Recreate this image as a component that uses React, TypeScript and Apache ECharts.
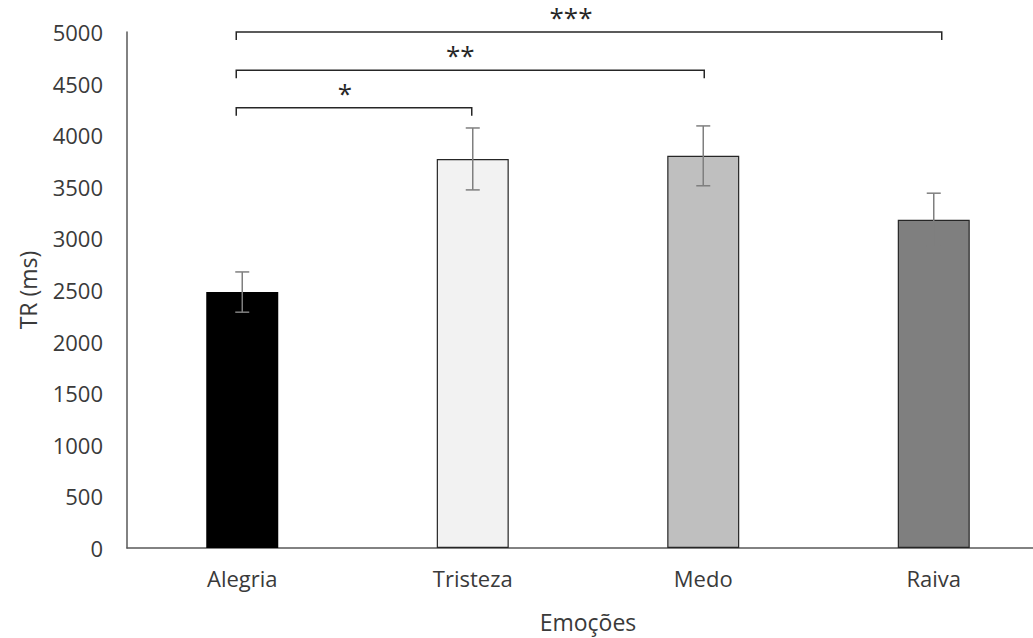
import React, { useEffect, useRef } from "react";
import * as echarts from "echarts";

const categories = ["Alegria", "Tristeza", "Medo", "Raiva"];
const means = [2480, 3770, 3800, 3180];
const errors = [195, 300, 290, 258];
const barColors = ["#000000", "#f2f2f2", "#bfbfbf", "#7f7f7f"];
const bracketFrom = [0, 0, 0];
const bracketTo = [1, 2, 3];
const bracketLevel = [4265, 4630, 5000];
const bracketLabels = ["*", "**", "***"];
const yTicks = { min: 0, max: 5000, interval: 500 };

// pixel styling tweaks (not data)
const bracketStartOffset = -6;
const bracketEndOffset = [-1, 1, 8];
const starOffset = [-9, -10, -18];

const FONT = "'Open Sans', 'Noto Sans', sans-serif";

export default function App() {
  const ref = useRef<HTMLDivElement>(null);
  useEffect(() => {
    const chart = echarts.init(ref.current!, null, { renderer: "svg" });
    const barData = means.map((v, i) => ({
      value: v,
      itemStyle: {
        color: barColors[i],
        borderColor: i === 0 ? "#000" : "#262626",
        borderWidth: i === 0 ? 0 : 1.2,
      },
    }));
    const errData = means.map((m, i) => [i, m - errors[i], m + errors[i]]);
    const brData = bracketFrom.map((f, i) => [f, bracketTo[i], bracketLevel[i], i]);

    chart.setOption({
      animation: false,
      textStyle: { fontFamily: FONT },
      grid: { left: 127, top: 32, right: 0, bottom: 90, containLabel: false },
      xAxis: {
        type: "category",
        data: categories,
        name: "Emoções",
        nameLocation: "middle",
        nameGap: 62,
        nameTextStyle: { fontSize: 23, color: "#3a3a3a", fontFamily: FONT },
        axisLine: { lineStyle: { color: "#595959", width: 1.5 } },
        axisTick: { show: false },
        axisLabel: { fontSize: 22, color: "#3a3a3a", margin: 19, fontFamily: FONT },
      },
      yAxis: {
        type: "value",
        min: yTicks.min,
        max: yTicks.max,
        interval: yTicks.interval,
        name: "TR (ms)",
        nameLocation: "middle",
        nameGap: 88,
        nameRotate: 90,
        nameTextStyle: { fontSize: 23, color: "#3a3a3a", fontFamily: FONT },
        axisLine: { show: true, lineStyle: { color: "#595959", width: 1.5 } },
        axisTick: { show: false },
        splitLine: { show: false },
        axisLabel: {
          fontSize: 22,
          color: "#3a3a3a",
          margin: 24,
          fontFamily: FONT,
          formatter: (v: number) => String(v),
        },
      },
      series: [
        {
          type: "bar",
          data: barData,
          barWidth: 72,
        },
        {
          type: "custom",
          data: errData,
          z: 10,
          renderItem: (params: any, api: any) => {
            const x = api.value(0);
            const lo = api.coord([x, api.value(1)]);
            const hi = api.coord([x, api.value(2)]);
            const cap = 7;
            const style = { stroke: "#7f7f7f", lineWidth: 1.5 };
            return {
              type: "group",
              children: [
                { type: "line", shape: { x1: hi[0], y1: hi[1], x2: lo[0], y2: lo[1] }, style },
                { type: "line", shape: { x1: hi[0] - cap, y1: hi[1], x2: hi[0] + cap, y2: hi[1] }, style },
                { type: "line", shape: { x1: lo[0] - cap, y1: lo[1], x2: lo[0] + cap, y2: lo[1] }, style },
              ],
            };
          },
        },
        {
          type: "custom",
          data: brData,
          z: 10,
          clip: false,
          renderItem: (params: any, api: any) => {
            const idx = api.value(3);
            const a = api.coord([api.value(0), api.value(2)]);
            const b = api.coord([api.value(1), api.value(2)]);
            const x1 = a[0] + bracketStartOffset;
            const x2 = b[0] + bracketEndOffset[idx];
            const y = a[1];
            const tick = 8;
            const style = { stroke: "#262626", lineWidth: 1.5, fill: null };
            return {
              type: "group",
              children: [
                {
                  type: "polyline",
                  shape: { points: [[x1, y + tick], [x1, y], [x2, y], [x2, y + tick]] },
                  style,
                },
                {
                  type: "text",
                  style: {
                    text: bracketLabels[idx],
                    x: (x1 + x2) / 2 + starOffset[idx],
                    y: y - 2,
                    align: "center",
                    verticalAlign: "bottom",
                    font: `26px ${FONT}`,
                    fill: "#262626",
                  },
                },
              ],
            };
          },
        },
      ],
    });
    return () => chart.dispose();
  }, []);
  return (
    <div style={{ position: "fixed", left: 0, top: 0, width: 1033, height: 638, overflow: "hidden", background: "#fff" }}>
      <div ref={ref} style={{ width: 1049, height: 638 }} />
    </div>
  );
}
